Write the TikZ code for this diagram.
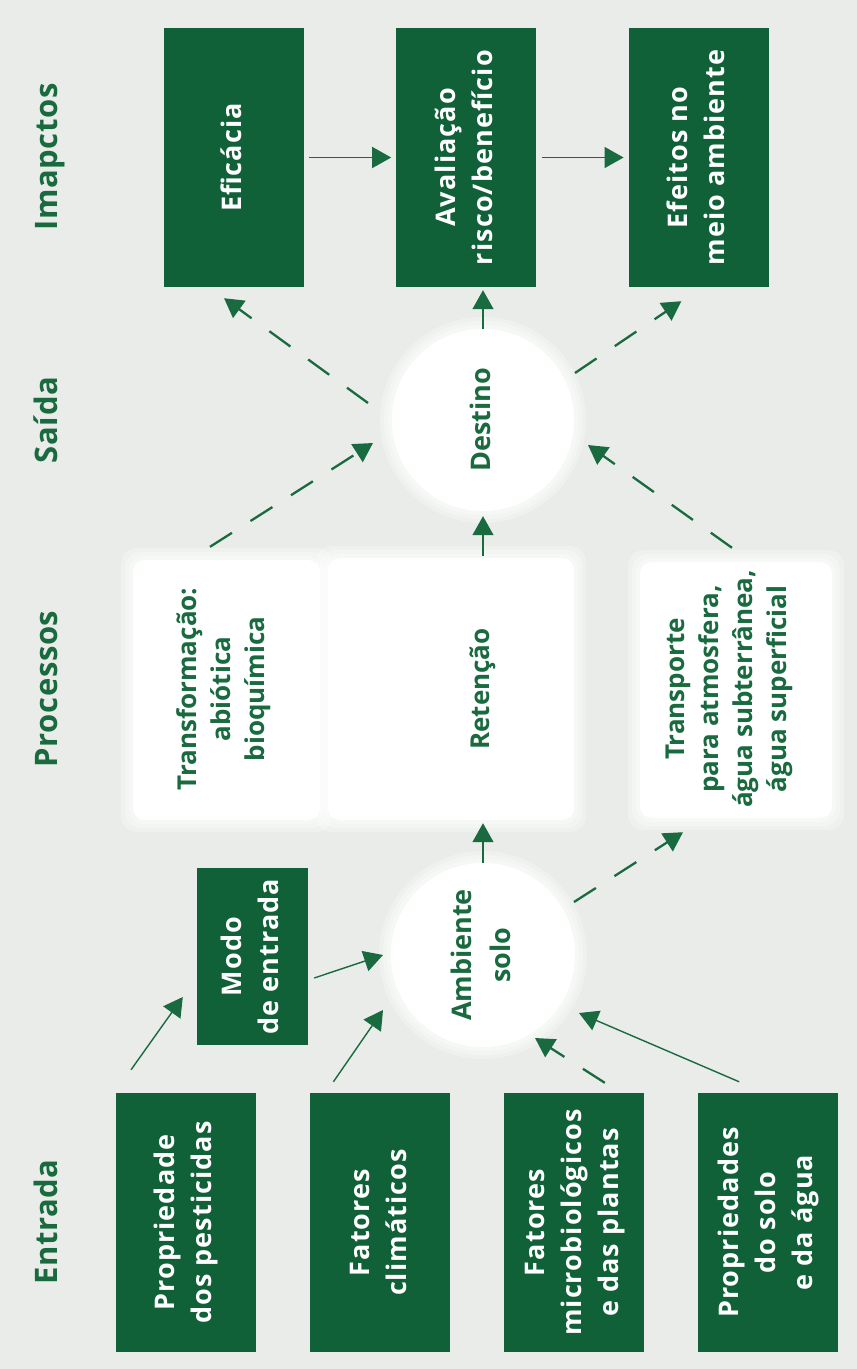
\documentclass[tikz,border=0pt]{standalone}
\usepackage{fontspec}
\usepackage{graphicx}
\setmainfont{Open Sans}
\newfontfamily\boxfont{Open Sans}[LetterSpace=4]
\newfontfamily\lblfont{Open Sans}[LetterSpace=2]
\usetikzlibrary{positioning,arrows.meta,calc}
\definecolor{verde}{RGB}{16,96,56}
\definecolor{verdetxt}{RGB}{26,106,64}
\definecolor{fundo}{RGB}{233,236,233}
\tikzset{
  caixa/.style={fill=verde,text=white,minimum width=140pt,minimum height=259pt,inner sep=0pt,font=\boxfont\bfseries\fontsize{27}{37}\selectfont},
  proc/.style={text=verdetxt,inner sep=0pt,minimum width=40pt,minimum height=264pt,font=\bfseries\fontsize{26}{34}\selectfont},
  bola/.style={circle,fill=white,text=verdetxt,inner sep=0pt,font=\bfseries\fontsize{27}{39}\selectfont},
  etapa/.style={text=verdetxt,inner sep=0pt,font=\lblfont\bfseries\fontsize{31}{36}\selectfont},
  halo/.style={white,opacity=.3,rounded corners=16pt},
  seta/.style={-{Triangle[length=19pt,width=21pt]},draw=verdetxt,line width=1.4pt},
  tracejada/.style={seta,line width=2.3pt,dash pattern=on 26pt off 22pt}
}
\newcommand{\gira}[1]{\rotatebox{90}{\begin{tabular}{@{}c@{}}#1\end{tabular}}}

\begin{document}
\begin{tikzpicture}[x=1pt,y=-1pt]
  \useasboundingbox (0,0) rectangle (857,1369);
  \fill[fundo] (0,0) rectangle (857,1369);
  \foreach \d in {12,8,4} {
    \fill[halo] (133-\d,560-\d) rectangle (320+\d,820+\d);
    \fill[halo] (328-\d,558-\d) rectangle (574+\d,820+\d);
    \fill[halo] (640-\d,562-\d) rectangle (832+\d,818+\d);
    \fill[halo] (483,420) circle[radius=91pt+\d pt];
    \fill[halo] (483,955) circle[radius=92pt+\d pt];
  }
  \fill[white,rounded corners=12pt] (133,560) rectangle (320,820);
  \fill[white,rounded corners=12pt] (328,558) rectangle (574,820);
  \fill[white,rounded corners=12pt] (640,562) rectangle (832,818);

  \node[etapa] (imp) at (50,157) {\gira{Imapctos}};
  \node[etapa] (sai) at (50,420) {\gira{Saída}};
  \node[etapa] (pro) at (50,689) {\gira{Processos}};
  \node[etapa] (ent) at (50,1222) {\gira{Entrada}};

  \node[caixa] (efic) at (234,157.5) {\gira{Eficácia}};
  \node[caixa,right=92pt of efic] (aval) {\gira{Avaliação\\risco/benefício}};
  \node[caixa,right=92pt of aval] (efei) {\gira{Efeitos no\\meio ambiente}};

  \node[bola,minimum size=182pt] (dest) at (483,420) {\gira{Destino}};

  \node[proc] (trans) at (224,689) {\gira{Transformação:\\abiótica\\bioquímica}};
  \node[proc] (ret) at (483,689) {\gira{Retenção}};
  \node[proc] (transp) at (729,689) {\gira{Transporte\\para atmosfera,\\água subterrânea,\\água superficial}};

  \node[bola,minimum size=184pt] (amb) at (483,955) {\gira{Ambiente\\solo}};
  \node[caixa,minimum width=111pt,minimum height=177pt] (modo) at (252.5,956.5) {\gira{Modo\\de entrada}};

  \node[caixa] (prop) at (186,1222.5) {\gira{Propriedade\\dos pesticidas}};
  \node[caixa,right=54pt of prop] (clim) {\gira{Fatores\\climáticos}};
  \node[caixa,right=53pt of clim] (micro) {\gira{Fatores\\microbiológicos\\e das plantas}};
  \node[caixa,right=54pt of micro] (solo) {\gira{Propriedades\\do solo\\e da água}};

  \draw[seta,shorten <=5pt,shorten >=5pt] (efic) -- (aval);
  \draw[seta,shorten <=5pt,shorten >=5pt] (aval) -- (efei);
  \draw[seta,shorten >=3pt] (dest) -- (dest |- aval.south);
  \draw[tracejada] ($(dest)+(-115,-17)$) -- ([xshift=-10pt,yshift=-11pt]efic.south);
  \draw[tracejada] ($(dest)+(92,-47)$) -- ([xshift=-17.5pt,yshift=-14pt]efei.south);

  \draw[tracejada] ([xshift=-14pt,yshift=10pt]trans.north) -- ($(dest)+(-110,23)$);
  \draw[tracejada] ([xshift=3pt,yshift=9pt]transp.north) -- ($(dest)+(105,25)$);
  \draw[seta,shorten <=1pt,shorten >=5pt] (ret) -- (dest);

  \draw[seta,shorten >=2pt] (amb) -- (ret);
  \draw[tracejada] ($(amb)+(91,-53)$) -- ([xshift=-46pt,yshift=-11pt]transp.south);
  \draw[seta] ([xshift=6pt,yshift=-21.5pt]modo.east) -- ($(amb)+(-100,0)$);

  \draw[seta] ([xshift=-55pt,yshift=23pt]prop.north) -- ([xshift=-14pt,yshift=-40.5pt]modo.west);
  \draw[seta] ([xshift=-47pt,yshift=11pt]clim.north) -- ($(amb)+(-100,55)$);
  \draw[tracejada] ([xshift=31pt,yshift=10pt]micro.north) -- ($(amb)+(52,83)$);
  \draw[seta] ([xshift=-29pt,yshift=11pt]solo.north) -- ($(amb)+(96,58)$);
\end{tikzpicture}
\end{document}
